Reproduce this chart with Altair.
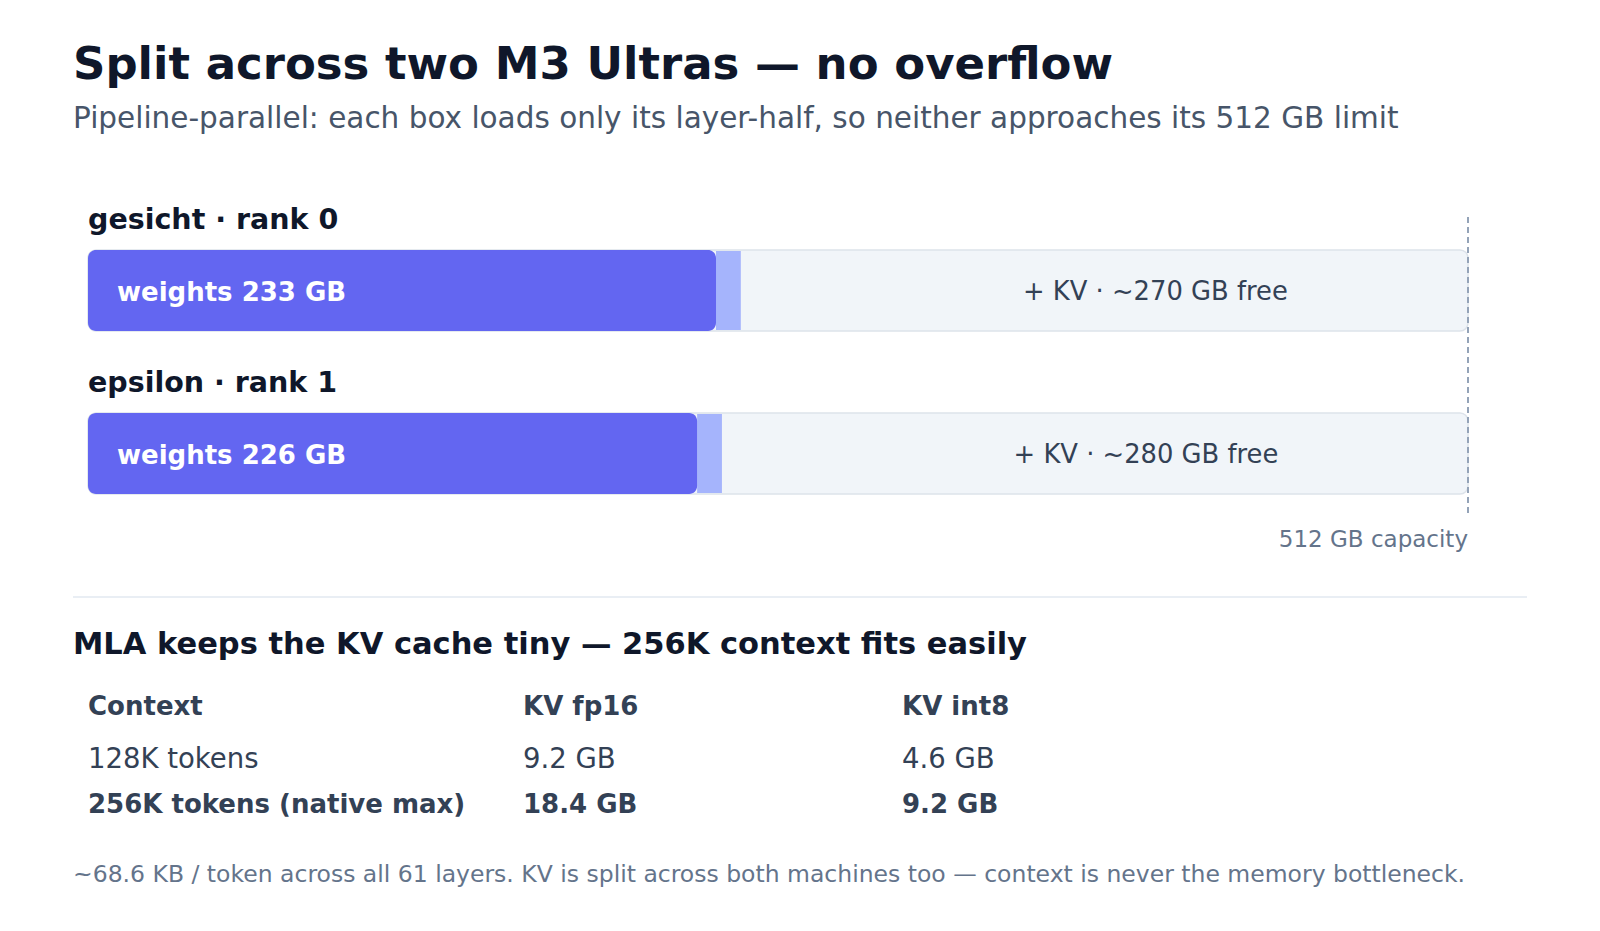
import altair as alt
import pandas as pd

# ---------------- data ----------------
hosts = ["gesicht", "epsilon"]
host_labels = ["gesicht · rank 0", "epsilon · rank 1"]
weights_gb = [233, 226]
kv_gb = [9.2, 9.2]
free_gb = [270, 280]
capacity_gb = 512

title_text = "Split across two M3 Ultras — no overflow"
subtitle_text = "Pipeline-parallel: each box loads only its layer-half, so neither approaches its 512 GB limit"
capacity_text = "512 GB capacity"
section_text = "MLA keeps the KV cache tiny — 256K context fits easily"
footnote_text = "~68.6 KB / token across all 61 layers. KV is split across both machines too — context is never the memory bottleneck."

table_header = ["Context", "KV fp16", "KV int8"]
table_context = ["128K tokens", "256K tokens (native max)"]
table_fp16 = ["9.2 GB", "18.4 GB"]
table_int8 = ["4.6 GB", "9.2 GB"]
table_bold_rows = [False, True]

# ---------------- frames ----------------
bars = pd.DataFrame({
    "host": hosts,
    "label": host_labels,
    "weights": weights_gb,
    "kv": kv_gb,
    "free": free_gb,
})
bars["idx"] = list(range(len(hosts)))
bars["zero"] = 0
bars["cap"] = capacity_gb
bars["kv_end"] = bars["weights"] + bars["kv"]
bars["free_mid"] = (bars["kv_end"] + bars["cap"]) / 2
bars["wlabel"] = ["weights %d GB" % w for w in weights_gb]
bars["flabel"] = ["+ KV · ~%d GB free" % f for f in free_gb]

cells = []
for c, h in enumerate(table_header):
    cells.append({"row": 0, "col": c, "text": h, "bold": True})
for r in range(len(table_context)):
    for c, v in enumerate([table_context[r], table_fp16[r], table_int8[r]]):
        cells.append({"row": r + 1, "col": c, "text": v, "bold": table_bold_rows[r]})
table = pd.DataFrame(cells)

FONT = "DejaVu Sans"
xs = alt.Scale(domain=[0, capacity_gb], range=[80, 1460], padding=0)
ys = alt.Scale(domain=[0, 1], range=[282.5, 445.5], padding=0)
X = lambda f: alt.X(f"{f}:Q", scale=xs, axis=None)
Y = alt.Y("idx:Q", scale=ys, axis=None)
BAR_H = 81

base = alt.Chart(bars)

bg = base.mark_bar(cornerRadius=8, fill="#f1f5f9", stroke="#dde3ea", strokeWidth=1.5, size=BAR_H).encode(
    x=X("zero"), x2="cap", y=Y)
kv = base.mark_bar(fill="#a5b4fc", size=BAR_H - 2).encode(x=X("weights"), x2="kv_end", y=Y)
wb = base.mark_bar(cornerRadius=8, fill="#6366f1", size=BAR_H).encode(x=X("zero"), x2="weights", y=Y)
wtext = base.mark_text(align="left", baseline="alphabetic", dx=29, dy=10, font=FONT,
                       fontSize=26, fontWeight="bold", color="#ffffff").encode(
    x=X("zero"), y=Y, text="wlabel:N")
ftext = base.mark_text(align="center", baseline="alphabetic", dx=51, dy=9, font=FONT,
                       fontSize=25.8, color="#334155").encode(
    x=X("free_mid"), y=Y, text="flabel:N")
htext = base.mark_text(align="left", baseline="alphabetic", dy=-62, font=FONT,
                       fontSize=28.5, fontWeight="bold", color="#0f172a").encode(
    x=X("zero"), y=Y, text="label:N")

cap_df = pd.DataFrame({"cap": [capacity_gb], "t": [capacity_text]})
cap_rule = alt.Chart(cap_df).mark_rule(color="#94a3b8", strokeWidth=2, strokeDash=[6, 4]).encode(
    x=alt.X("cap:Q", scale=xs, axis=None), y=alt.value(209), y2=alt.value(505))
cap_text = alt.Chart(cap_df).mark_text(align="right", baseline="alphabetic", font=FONT,
                                       fontSize=23, color="#64748b").encode(
    x=alt.X("cap:Q", scale=xs, axis=None), y=alt.value(539), text="t:N")


def label(txt, x, y, size, color, weight="normal"):
    return alt.Chart(pd.DataFrame({"t": [txt]})).mark_text(
        align="left", baseline="alphabetic", font=FONT, fontSize=size,
        fontWeight=weight, color=color).encode(x=alt.value(x), y=alt.value(y), text="t:N")


title = label(title_text, 65, 71, 45, "#0f172a", "bold")
subtitle = label(subtitle_text, 65, 120, 29.5, "#475569")
section = label(section_text, 65, 646, 30.5, "#0f172a", "bold")
footnote = label(footnote_text, 65, 874, 23.5, "#64748b")

sep = alt.Chart(pd.DataFrame({"a": [0]})).mark_rule(color="#e2e8f0", strokeWidth=1.5).encode(
    x=alt.value(65), x2=alt.value(1519), y=alt.value(589))

tx = alt.Scale(domain=[0, 1, 2], range=[80, 515, 894])
ty = alt.Scale(domain=[0, 1, 2], range=[707, 760, 805])
tbase = alt.Chart(table).encode(
    x=alt.X("col:Q", scale=tx, axis=None),
    y=alt.Y("row:Q", scale=ty, axis=None),
    text="text:N")
t_norm = tbase.transform_filter("!datum.bold").mark_text(
    align="left", baseline="alphabetic", font=FONT, fontSize=27.5, color="#334155")
t_bold = tbase.transform_filter("datum.bold").mark_text(
    align="left", baseline="alphabetic", font=FONT, fontSize=26, fontWeight="bold", color="#334155")

chart = alt.layer(
    bg, kv, wb, wtext, ftext, htext, cap_rule, cap_text,
    title, subtitle, sep, section, t_norm, t_bold, footnote,
).resolve_scale(x="independent", y="independent").properties(
    width=1584, height=910, padding=0, autosize="none"
).configure_view(strokeWidth=0)

chart.save("out.html", embed_options={"renderer": "svg", "actions": False})
